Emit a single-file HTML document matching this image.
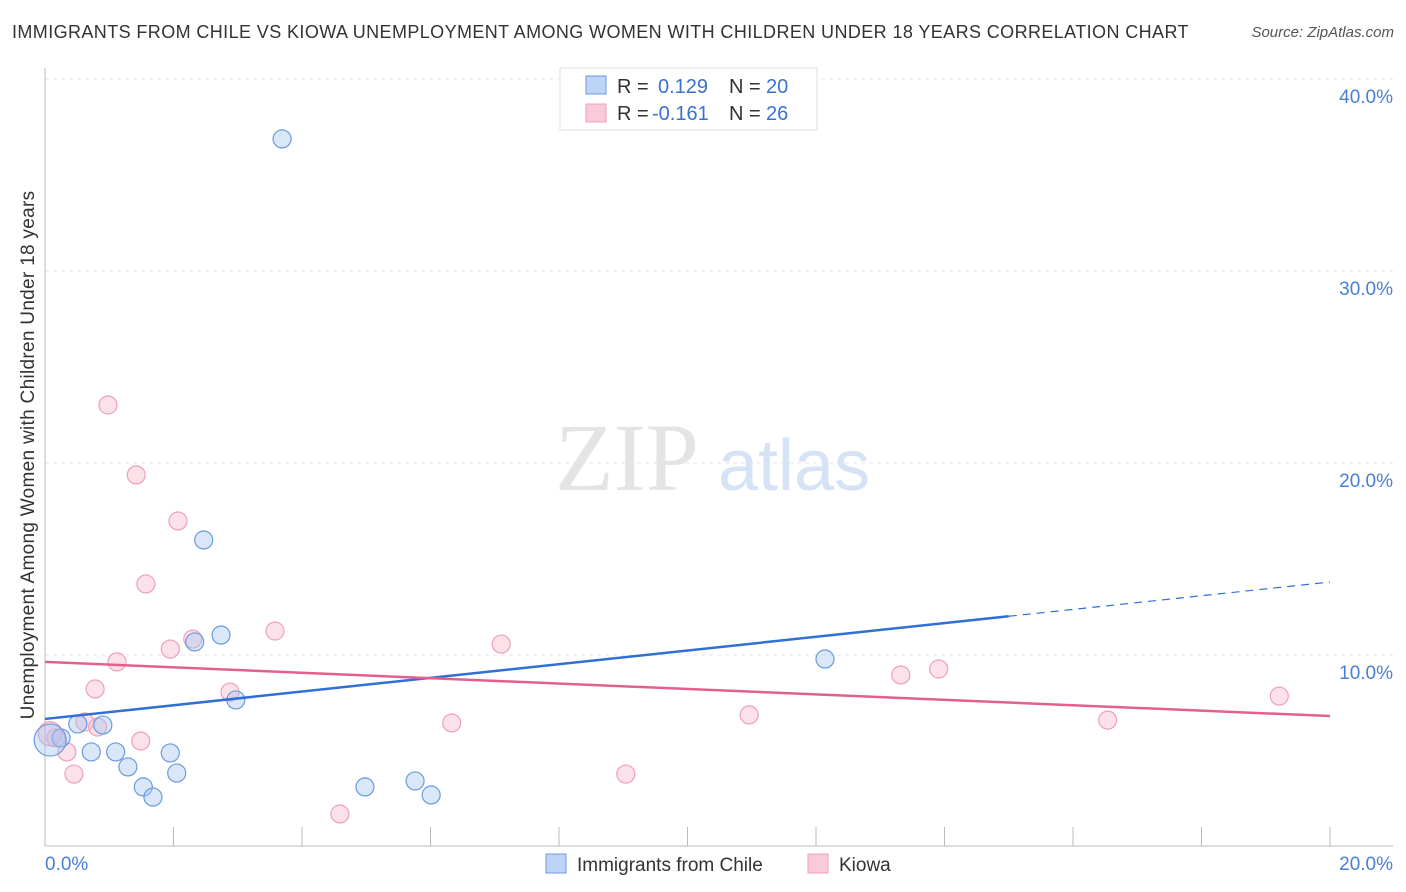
<!DOCTYPE html>
<html><head><meta charset="utf-8"><style>
body{margin:0;background:#fff;font-family:"Liberation Sans",sans-serif;}
#wrap{position:relative;width:1406px;height:892px;overflow:hidden}
.t{position:absolute;white-space:nowrap}
</style></head><body>
<div id="wrap">
<div class="t" style="left:12px;top:22px;font-size:18px;color:#333;letter-spacing:0.4px">IMMIGRANTS FROM CHILE VS KIOWA UNEMPLOYMENT AMONG WOMEN WITH CHILDREN UNDER 18 YEARS CORRELATION CHART</div>
<div class="t" style="right:12px;top:24px;font-size:15px;color:#555;font-style:italic">Source: ZipAtlas.com</div>
<svg id="svg" width="1406" height="892" style="position:absolute;left:0;top:0"></svg>
</div>
<script>
const yTicks=[10,20,30,40];
const yTickLabels=["10.0%","20.0%","30.0%","40.0%"];
const chileX=[3.69,2.47,2.74,2.33,2.97,12.14,0.51,0.90,0.25,0.08,0.72,1.10,1.95,1.29,2.05,1.53,1.68,4.98,5.76,6.01];
const chileY=[36.88,15.99,11.04,10.68,7.66,9.79,6.41,6.35,5.68,5.57,4.95,4.95,4.90,4.17,3.85,3.13,2.6,3.13,3.44,2.71];
const kiowaX=[0.98,1.42,2.07,1.57,3.58,2.30,1.95,7.10,1.12,0.78,2.88,0.62,0.82,1.49,0.17,0.34,0.45,6.33,4.59,10.96,9.04,13.32,13.91,16.54,19.21,0.08];
const kiowaY=[23.02,19.38,16.98,13.70,11.25,10.83,10.31,10.57,9.64,8.23,8.07,6.51,6.25,5.52,5.68,4.95,3.80,6.46,1.72,6.88,3.80,8.96,9.27,6.61,7.86,5.9];
const chileTrend=[6.67,13.8];
const kiowaTrend=[9.64,6.82];
const X=v=>45+v/20*1285, Y=v=>847-v*19.2;
const svg=document.getElementById('svg');const NS='http://www.w3.org/2000/svg';
function mk(t,a,name,txt){const e=document.createElementNS(NS,t);for(const k in a)e.setAttribute(k,a[k]);


if(txt)e.textContent=txt;svg.appendChild(e);return e;}
yTicks.forEach((v,i)=>{mk('line',{x1:45,x2:1393,y1:Y(v),y2:Y(v),stroke:'#e6e6e6','stroke-dasharray':'4,4'},'gridline');
mk('text',{x:1393,y:Y(v)+24,'text-anchor':'end','font-size':19,fill:'#4a7fd4','font-family':'Liberation Sans'},'y-tick-label',yTickLabels[i]);});
mk('line',{x1:45,x2:45,y1:68,y2:846,stroke:'#bbb'},'y-axis');
mk('line',{x1:45,x2:1393,y1:846,y2:846,stroke:'#bbb'},'x-axis');
for(let k=1;k<=10;k++){mk('line',{x1:45+128.5*k,x2:45+128.5*k,y1:827,y2:846,stroke:'#bbb'},'x-tick');}
mk('text',{x:45,y:870,'font-size':19,fill:'#4a7fd4','font-family':'Liberation Sans'},'x-min-label','0.0%');
mk('text',{x:1393,y:870,'text-anchor':'end','font-size':19,fill:'#4a7fd4','font-family':'Liberation Sans'},'x-max-label','20.0%');
mk('text',{x:34,y:455,'text-anchor':'middle','font-size':19,'letter-spacing':0.3,fill:'#333',transform:'rotate(-90 34 455)','font-family':'Liberation Sans'},'y-axis-title','Unemployment Among Women with Children Under 18 years');
mk('text',{x:555,y:490,'font-size':96,fill:'#e4e4e4','font-family':'Liberation Serif'},'watermark-zip','ZIP');
mk('text',{x:718,y:490,'font-size':72,fill:'#d6e2f5','font-family':'Liberation Sans'},'watermark-atlas','atlas');
kiowaX.forEach((v,i)=>mk('circle',{cx:X(v),cy:Y(kiowaY[i]),r:i==25?12:9,fill:'rgba(248,180,200,0.4)',stroke:'#eea0b8','stroke-width':1.2},'kiowa-point'));
chileX.forEach((v,i)=>mk('circle',{cx:X(v),cy:Y(chileY[i]),r:i==9?16:9,fill:'rgba(160,195,240,0.4)',stroke:'#6a9ae0','stroke-width':1.2},'chile-point'));
const cy=x=>chileTrend[0]+(chileTrend[1]-chileTrend[0])*x/20;
mk('line',{x1:X(0),y1:Y(cy(0)),x2:X(15),y2:Y(cy(15)),stroke:'#2f6fd6','stroke-width':2.5},'chile-trendline');
mk('line',{x1:X(15),y1:Y(cy(15)),x2:X(20),y2:Y(cy(20)),stroke:'#2f6fd6','stroke-width':1.2,'stroke-dasharray':'8,6'},'chile-trendline-extension');
mk('line',{x1:X(0),y1:Y(kiowaTrend[0]),x2:X(20),y2:Y(kiowaTrend[1]),stroke:'#e4608c','stroke-width':2.5},'kiowa-trendline');
mk('rect',{x:560,y:68,width:257,height:62,fill:'#fff',stroke:'#ddd'},'legend-box');
mk('rect',{x:586,y:76,width:20,height:18,fill:'#bcd4f6',stroke:'#6a9ae0'},'legend-chile-swatch');
mk('rect',{x:586,y:104,width:20,height:18,fill:'#fbcad8',stroke:'#eea0b8'},'legend-kiowa-swatch');
const lt=(x,y,s,c,n)=>mk('text',{x:x,y:y,'font-size':20,fill:c,'font-family':'Liberation Sans'},n,s);
lt(617,93,'R =','#333','legend-r-label');lt(658,93,'0.129','#3a72d0','legend-chile-r');lt(729,93,'N =','#333','legend-n-label');lt(766,93,'20','#3a72d0','legend-chile-n');
lt(617,120,'R =','#333','legend-r-label');lt(652,120,'-0.161','#3a72d0','legend-kiowa-r');lt(729,120,'N =','#333','legend-n-label');lt(766,120,'26','#3a72d0','legend-kiowa-n');
mk('rect',{x:546,y:854,width:20,height:19,fill:'#bcd4f6',stroke:'#6a9ae0'},'bottom-legend-chile-swatch');
mk('text',{x:577,y:871,'font-size':19,fill:'#333','font-family':'Liberation Sans'},'bottom-legend-chile','Immigrants from Chile');
mk('rect',{x:808,y:854,width:20,height:19,fill:'#fbcad8',stroke:'#eea0b8'},'bottom-legend-kiowa-swatch');
mk('text',{x:839,y:871,'font-size':19,fill:'#333','font-family':'Liberation Sans'},'bottom-legend-kiowa','Kiowa');
</script>
</body></html>
